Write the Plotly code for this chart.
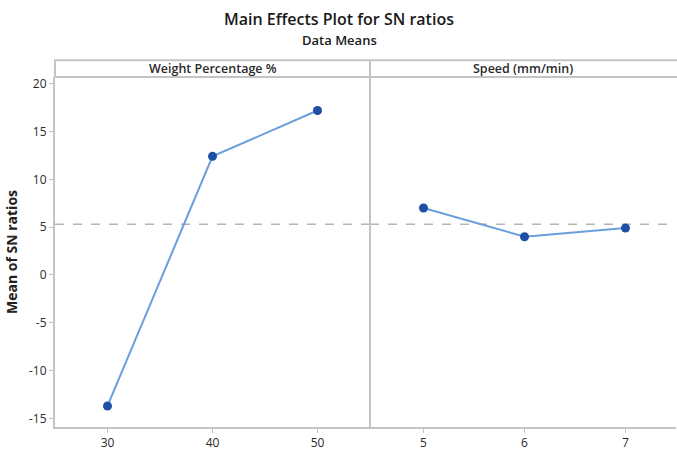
import plotly.graph_objects as go

weight_levels = [30, 40, 50]
weight_sn = [-13.7, 12.4, 17.2]
speed_levels = [5, 6, 7]
speed_sn = [7.0, 4.0, 4.9]
overall_mean = 5.3
panel_titles = ["Weight Percentage %", "Speed (mm/min)"]
y_ticks = [-15, -10, -5, 0, 5, 10, 15, 20]
y_tick_text = ["-15", "-10", "-5", "0", "5", "10", "15", "20"]

LINE = "#6a9fdc"
MARK = "#1d4fa6"
GRID = "#c4c4c4"
TXT = "#2a2a2a"
FONT = "Open Sans"

fig = go.Figure()
fig.add_trace(go.Scatter(x=weight_levels, y=weight_sn, mode="lines+markers",
                         line=dict(color=LINE, width=2),
                         marker=dict(color=MARK, size=9, symbol="circle"),
                         xaxis="x", yaxis="y", showlegend=False))
fig.add_trace(go.Scatter(x=speed_levels, y=speed_sn, mode="lines+markers",
                         line=dict(color=LINE, width=2),
                         marker=dict(color=MARK, size=9, symbol="circle"),
                         xaxis="x2", yaxis="y2", showlegend=False))

split = (370 - 55) / 621
common_x = dict(showgrid=False, zeroline=False, ticks="outside", ticklen=4,
                tickcolor=GRID, showline=True, linecolor=GRID, linewidth=2,
                tickfont=dict(family=FONT, size=12, color=TXT))
yr = [-15.9, 20.7]

fig.update_layout(
    width=677, height=452,
    margin=dict(l=55, r=1, t=77, b=21),
    paper_bgcolor="white", plot_bgcolor="white",
    font=dict(family=FONT, color=TXT),
    xaxis=dict(domain=[0, split], range=[25, 55], tickvals=weight_levels, **common_x),
    xaxis2=dict(domain=[split, 1], range=[4.47, 7.5], tickvals=speed_levels, anchor="y2", **common_x),
    yaxis=dict(range=yr, tickvals=y_ticks, ticktext=y_tick_text, showgrid=False, zeroline=False,
               ticks="outside", ticklen=4, tickcolor=GRID, showline=True,
               linecolor=GRID, linewidth=2,
               tickfont=dict(family=FONT, size=12, color=TXT),
               title=dict(text="<b>Mean of SN ratios</b>", font=dict(family=FONT, size=14, color="#222"), standoff=8)),
    yaxis2=dict(range=yr, anchor="x2", overlaying="y", showticklabels=False,
                showgrid=False, zeroline=False, showline=False),
    showlegend=False,
)

# reference line for overall mean
for xr, yref in [("x", "y"), ("x2", "y2")]:
    fig.add_shape(type="line", xref=xr + " domain", yref=yref, x0=0, x1=1,
                  y0=overall_mean, y1=overall_mean,
                  line=dict(color="#b5b5b5", width=1.5, dash="dash"), layer="below")

strip_h = 17 / 354
# strip header
fig.add_shape(type="rect", xref="paper", yref="paper", x0=0, x1=1.01, y0=1, y1=1 + strip_h,
              line=dict(color=GRID, width=2), fillcolor="white")
# divider
fig.add_shape(type="line", xref="paper", yref="paper", x0=split, x1=split, y0=0, y1=1 + strip_h,
              line=dict(color=GRID, width=2))

for i, t in enumerate(panel_titles):
    cx = split / 2 if i == 0 else (split + 1) / 2
    fig.add_annotation(text=t, xref="paper", yref="paper", x=cx, y=1 + strip_h / 2,
                       showarrow=False, font=dict(family=FONT, size=12.5, color=TXT, weight=600),
                       xanchor="center", yanchor="middle")

fig.add_annotation(text="Main Effects Plot for SN ratios", xref="paper", yref="paper",
                   x=(339 - 55) / 621, y=1 + (77 - 18) / 354, showarrow=False,
                   font=dict(family=FONT, size=16, color="#1a1a1a", weight=600), xanchor="center", yanchor="middle")
fig.add_annotation(text="Data Means", xref="paper", yref="paper",
                   x=(339 - 55) / 621, y=1 + (77 - 40) / 354, showarrow=False,
                   font=dict(family=FONT, size=13, color="#1a1a1a", weight=600), xanchor="center", yanchor="middle")

fig.write_html("out.html")
